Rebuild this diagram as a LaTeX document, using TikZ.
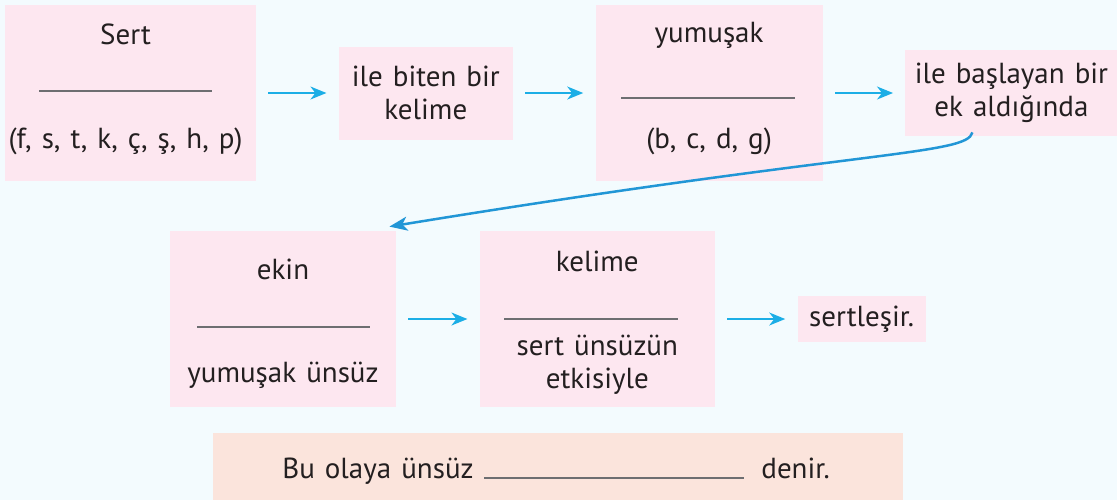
\documentclass[tikz,border=0pt]{standalone}
\usepackage{fontspec}
\setmainfont[WordSpace=1.3]{PT Sans}
\usetikzlibrary{arrows.meta,positioning,calc}
\definecolor{bgblue}{HTML}{F3FBFE}
\definecolor{boxpink}{HTML}{FDE7F0}
\definecolor{boxpeach}{HTML}{FBE4DC}
\definecolor{arrowcyan}{HTML}{1BAEE6}
\definecolor{curveblue}{HTML}{2196D6}
\definecolor{inkgray}{HTML}{231F20}
\definecolor{rulegray}{HTML}{6D6E71}

\begin{document}
\begin{tikzpicture}[x=0.5pt, y=-0.5pt, node distance=41pt, font=\fontsize{14.5}{16.5}\selectfont, text=inkgray]
\tikzstyle{box}=[fill=boxpink, inner sep=0pt, align=center]
\tikzstyle{bigbox}=[box, minimum height=88pt]
\tikzstyle{word}=[inner sep=0pt, align=center]
\tikzstyle{blank}=[draw=rulegray, line width=0.65pt]
\tikzstyle{arr}=[draw=arrowcyan, line width=0.75pt, -{Stealth[length=8pt, width=6.5pt, inset=2.5pt]}, shorten <=6pt, shorten >=6pt]
\tikzstyle{linkcurve}=[draw=curveblue, line width=1.25pt, -{Stealth[length=9pt, width=7pt, inset=2.5pt]}]
\useasboundingbox (0,0) rectangle (1117,500);
\fill[bgblue] (0,0) rectangle (1117,500);
% first row
\node[bigbox, minimum width=125.5pt] (sert) at (130.5,93) {};
\node[box, minimum width=87pt, minimum height=46.5pt, right=of sert] (biten) {ile biten bir\\kelime};
\node[bigbox, minimum width=113.5pt, right=of biten] (yumusak) {};
\node[box, minimum width=106pt, minimum height=43pt, right=of yumusak] (ek) {ile başlayan bir\\ek aldığında};
\node[word] (sertT) at ($(sert)+(-5,-59)$) {Sert};
\node[word] (sertB) at ($(sert)+(-5,48)$) {(f, s, t, k, ç, ş, h, p)};
\draw[blank] (39,91) -- (212,91);
\node[word] (yumT) at ($(yumusak)+(0,-58)$) {yumuşak};
\node[word] (yumB) at ($(yumusak)+(0,48)$) {(b, c, d, g)};
\draw[blank] (621,98) -- (795,98);
\draw[arr] (sert) -- (biten);
\draw[arr] (biten) -- (yumusak);
\draw[arr] (yumusak) -- (ek);
% second row
\node[bigbox, minimum width=113pt] (ekin) at (283,319) {};
\node[bigbox, minimum width=117.5pt, right=41.5pt of ekin] (kelime) {};
\node[box, minimum width=64pt, minimum height=23pt, right=of kelime] (sertles) {sertleşir.};
\node[word] (ekinT) at ($(ekin)+(0,-50)$) {ekin};
\node[word] (ekinB) at ($(ekin)+(0,56)$) {yumuşak ünsüz};
\draw[blank] (197,327) -- (370,327);
\node[word] (kelT) at ($(kelime)+(0,-58)$) {kelime};
\node[word] (kelB) at ($(kelime)+(0,46)$) {sert ünsüzün\\etkisiyle};
\draw[blank] (504,319) -- (678,319);
\draw[arr] (ekin) -- (kelime);
\draw[arr] (kelime) -- (sertles);
% curved link between the rows
\coordinate (cs) at ($(ek.south)+(-39,-4)$);
\coordinate (ce) at ($(ekin.north east)+(-7,-4)$);
\draw[linkcurve] (cs) .. controls ($(cs)+(-5,23)$) and ($(ce)+(471,-77)$) .. (ce);
% bottom sentence
\node[box, fill=boxpeach, minimum width=345pt, minimum height=33.5pt] (olay) at (558,466.5) {};
\coordinate (gapL) at (484,478);
\coordinate (gapR) at (744,478);
\draw[blank] (gapL) -- (gapR);
\node[word, anchor=base east] (bu) at ($(gapL)+(-10,0)$) {Bu olaya ünsüz};
\node[word, anchor=base west] (denir) at ($(gapR)+(17,0)$) {denir.};
\end{tikzpicture}
\end{document}
